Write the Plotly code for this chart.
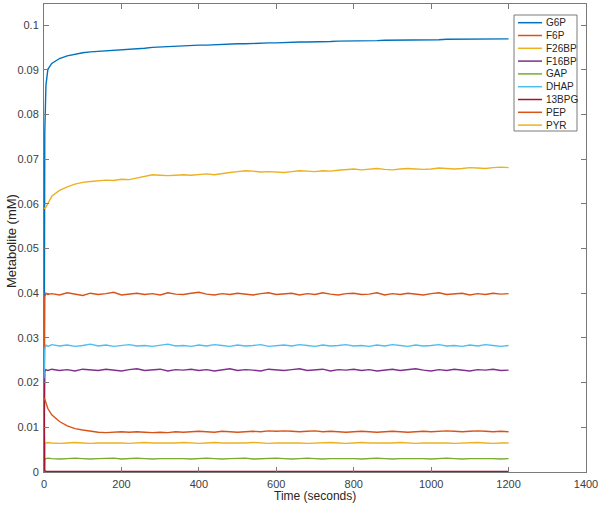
import plotly.graph_objects as go

# --- Data (time in seconds, concentrations in mM) ---
time_s = [0, 2, 5, 10,
          20, 40, 60, 80, 100, 120, 140, 160, 180, 200,
          220, 240, 260, 280, 300, 320, 340, 360, 380, 400,
          420, 440, 460, 480, 500, 520, 540, 560, 580, 600,
          620, 640, 660, 680, 700, 720, 740, 760, 780, 800,
          820, 840, 860, 880, 900, 920, 940, 960, 980, 1000,
          1020, 1040, 1060, 1080, 1100, 1120, 1140, 1160, 1180, 1200]

g6p = [0.0, 0.0760, 0.0865, 0.0901,
       0.0914, 0.0925, 0.0931, 0.0935, 0.0938, 0.0940, 0.0941, 0.0942, 0.0944, 0.0945,
       0.0946, 0.0947, 0.0948, 0.0950, 0.0951, 0.0951, 0.0952, 0.0953, 0.0954, 0.0955,
       0.0955, 0.0956, 0.0957, 0.0957, 0.0958, 0.0958, 0.0959, 0.0959, 0.0960, 0.0960,
       0.0961, 0.0961, 0.0962, 0.0962, 0.0962, 0.0963, 0.0963, 0.0964, 0.0964, 0.0964,
       0.0965, 0.0965, 0.0965, 0.0966, 0.0966, 0.0966, 0.0966, 0.0967, 0.0967, 0.0967,
       0.0967, 0.0968, 0.0968, 0.0968, 0.0968, 0.0968, 0.0969, 0.0969, 0.0969, 0.0969]

f6p = [0.0, 0.0392, 0.0400, 0.0397,
       0.0399, 0.0396, 0.0401, 0.0398, 0.0395, 0.0400, 0.0397, 0.0399, 0.0402, 0.0396,
       0.0398, 0.0400, 0.0397, 0.0399, 0.0396, 0.0401, 0.0398, 0.0397, 0.0400, 0.0402,
       0.0398, 0.0396, 0.0399, 0.0397, 0.0400, 0.0398, 0.0396, 0.0399, 0.0401, 0.0397,
       0.0398, 0.0400, 0.0396, 0.0399, 0.0397, 0.0401, 0.0398, 0.0396, 0.0399, 0.0400,
       0.0397, 0.0398, 0.0401, 0.0396, 0.0399, 0.0397, 0.0400, 0.0398, 0.0396, 0.0399,
       0.0401, 0.0397, 0.0398, 0.0400, 0.0396, 0.0399, 0.0397, 0.0400, 0.0398, 0.0399]

f26bp = [0.0, 0.0064, 0.0065, 0.0066,
         0.0065, 0.0064, 0.0065, 0.0066, 0.0065, 0.0064, 0.0065, 0.0065, 0.0066, 0.0065,
         0.0064, 0.0065, 0.0066, 0.0065, 0.0065, 0.0064, 0.0065, 0.0066, 0.0065, 0.0064,
         0.0065, 0.0066, 0.0065, 0.0065, 0.0064, 0.0065, 0.0066, 0.0065, 0.0064, 0.0065,
         0.0065, 0.0066, 0.0065, 0.0064, 0.0065, 0.0065, 0.0066, 0.0065, 0.0064, 0.0065,
         0.0066, 0.0065, 0.0065, 0.0064, 0.0065, 0.0066, 0.0065, 0.0064, 0.0065, 0.0065,
         0.0066, 0.0065, 0.0064, 0.0065, 0.0065, 0.0066, 0.0065, 0.0064, 0.0065, 0.0065]

f16bp = [0.0, 0.0225, 0.0229, 0.0227,
         0.0230, 0.0227, 0.0229, 0.0226, 0.0230, 0.0228, 0.0227, 0.0230, 0.0228, 0.0226,
         0.0229, 0.0231, 0.0227, 0.0228, 0.0230, 0.0226, 0.0229, 0.0228, 0.0230, 0.0227,
         0.0229, 0.0226, 0.0228, 0.0231, 0.0227, 0.0229, 0.0228, 0.0226, 0.0230, 0.0228,
         0.0227, 0.0229, 0.0231, 0.0227, 0.0228, 0.0230, 0.0226, 0.0229, 0.0228, 0.0230,
         0.0227, 0.0229, 0.0226, 0.0228, 0.0230, 0.0227, 0.0229, 0.0231, 0.0228, 0.0226,
         0.0229, 0.0227, 0.0230, 0.0228, 0.0226, 0.0229, 0.0228, 0.0230, 0.0227, 0.0228]

gap = [0.0, 0.0029, 0.0030, 0.0031,
       0.0030, 0.0029, 0.0030, 0.0031, 0.0030, 0.0029, 0.0030, 0.0030, 0.0031, 0.0029,
       0.0030, 0.0031, 0.0030, 0.0029, 0.0030, 0.0030, 0.0031, 0.0030, 0.0029, 0.0030,
       0.0031, 0.0030, 0.0029, 0.0030, 0.0030, 0.0031, 0.0029, 0.0030, 0.0030, 0.0031,
       0.0030, 0.0029, 0.0030, 0.0031, 0.0030, 0.0029, 0.0030, 0.0030, 0.0031, 0.0030,
       0.0029, 0.0030, 0.0031, 0.0030, 0.0029, 0.0030, 0.0030, 0.0031, 0.0030, 0.0029,
       0.0030, 0.0031, 0.0030, 0.0029, 0.0030, 0.0030, 0.0031, 0.0030, 0.0029, 0.0030]

dhap = [0.0210, 0.0276, 0.0284, 0.0281,
        0.0285, 0.0282, 0.0284, 0.0281, 0.0283, 0.0286, 0.0282, 0.0284, 0.0281, 0.0283,
        0.0285, 0.0282, 0.0283, 0.0281, 0.0284, 0.0286, 0.0282, 0.0283, 0.0281, 0.0284,
        0.0282, 0.0285, 0.0283, 0.0281, 0.0284, 0.0282, 0.0283, 0.0285, 0.0281, 0.0283,
        0.0284, 0.0282, 0.0285, 0.0283, 0.0281, 0.0284, 0.0282, 0.0283, 0.0285, 0.0282,
        0.0283, 0.0281, 0.0284, 0.0282, 0.0285, 0.0283, 0.0281, 0.0284, 0.0282, 0.0283,
        0.0285, 0.0282, 0.0283, 0.0281, 0.0284, 0.0282, 0.0285, 0.0283, 0.0281, 0.0283]

bpg13 = [0.0200, 0.0003, 0.0001, 0.0001,
         0.0001, 0.0001, 0.0001, 0.0001, 0.0001, 0.0001, 0.0001, 0.0001, 0.0001, 0.0001,
         0.0001, 0.0001, 0.0001, 0.0001, 0.0001, 0.0001, 0.0001, 0.0001, 0.0001, 0.0001,
         0.0001, 0.0001, 0.0001, 0.0001, 0.0001, 0.0001, 0.0001, 0.0001, 0.0001, 0.0001,
         0.0001, 0.0001, 0.0001, 0.0001, 0.0001, 0.0001, 0.0001, 0.0001, 0.0001, 0.0001,
         0.0001, 0.0001, 0.0001, 0.0001, 0.0001, 0.0001, 0.0001, 0.0001, 0.0001, 0.0001,
         0.0001, 0.0001, 0.0001, 0.0001, 0.0001, 0.0001, 0.0001, 0.0001, 0.0001, 0.0001]

pep = [0.0165, 0.0163, 0.0155, 0.0142,
       0.0128, 0.0113, 0.0103, 0.0097, 0.0094, 0.0091, 0.0089, 0.0088, 0.0089, 0.0090,
       0.0089, 0.0090, 0.0089, 0.0088, 0.0089, 0.0088, 0.0090, 0.0089, 0.0090, 0.0091,
       0.0090, 0.0089, 0.0091, 0.0090, 0.0089, 0.0090, 0.0091, 0.0090, 0.0092, 0.0091,
       0.0092, 0.0091, 0.0090, 0.0091, 0.0092, 0.0090, 0.0091, 0.0090, 0.0089, 0.0090,
       0.0091, 0.0090, 0.0089, 0.0090, 0.0091, 0.0090, 0.0089, 0.0090, 0.0091, 0.0090,
       0.0091, 0.0092, 0.0091, 0.0090, 0.0091, 0.0092, 0.0091, 0.0090, 0.0091, 0.0090]

pyr = [0.0590, 0.0590, 0.0592, 0.0600,
       0.0617, 0.0630, 0.0638, 0.0644, 0.0648, 0.0650, 0.0652, 0.0653, 0.0652, 0.0655,
       0.0654, 0.0658, 0.0662, 0.0665, 0.0664, 0.0663, 0.0664, 0.0665, 0.0664, 0.0666,
       0.0667, 0.0665, 0.0668, 0.0670, 0.0672, 0.0674, 0.0673, 0.0671, 0.0672, 0.0671,
       0.0670, 0.0672, 0.0674, 0.0673, 0.0672, 0.0674, 0.0673, 0.0675, 0.0677, 0.0678,
       0.0676, 0.0677, 0.0679, 0.0677, 0.0676, 0.0678, 0.0679, 0.0678, 0.0677, 0.0678,
       0.0680, 0.0679, 0.0678, 0.0679, 0.0681, 0.0680, 0.0679, 0.0681, 0.0682, 0.0681]

names = ["G6P", "F6P", "F26BP", "F16BP", "GAP", "DHAP", "13BPG", "PEP", "PYR"]
series = [g6p, f6p, f26bp, f16bp, gap, dhap, bpg13, pep, pyr]
colors = ["#0072BD", "#D95319", "#EDB120", "#7E2F8E", "#77AC30",
          "#4DBEEE", "#A2142F", "#D95319", "#EDB120"]

x_ticks = [0, 200, 400, 600, 800, 1000, 1200, 1400]
y_ticks = [0, 0.01, 0.02, 0.03, 0.04, 0.05, 0.06, 0.07, 0.08, 0.09, 0.1]

# --- Figure ---
W, H = 600, 509
ML, MR, MT, MB = 44, 14, 4, 37
PW, PH = W - ML - MR, H - MT - MB

fig = go.Figure()
for name, vals, col in zip(names, series, colors):
    fig.add_trace(go.Scatter(x=time_s, y=vals, mode="lines", name=name,
                             line=dict(color=col, width=1.4), showlegend=False))

# MATLAB-like legend box drawn by hand (plotly's legend rows are too tall)
def px_x(p):
    return (p - ML) / PW

def px_y(p):
    return (H - MB - p) / PH

shapes = [dict(type="rect", xref="paper", yref="paper",
               x0=px_x(514), x1=px_x(577), y0=px_y(131), y1=px_y(15),
               line=dict(color="#7a7a7a", width=1), fillcolor="white")]
annotations = []
for i, (name, col) in enumerate(zip(names, colors)):
    yy = px_y(22.7 + i * 12.8)
    shapes.append(dict(type="line", xref="paper", yref="paper",
                       x0=px_x(518), x1=px_x(542), y0=yy, y1=yy,
                       line=dict(color=col, width=1.5)))
    annotations.append(dict(xref="paper", yref="paper", x=px_x(544), y=yy,
                            text=name, showarrow=False, xanchor="left",
                            yanchor="middle", font=dict(size=10, color="#262626")))

# axis titles placed as annotations so the plot area stays where the reference has it
annotations.append(dict(xref="paper", yref="paper", x=0.5, y=px_y(496),
                        text="Time (seconds)", showarrow=False,
                        xanchor="center", yanchor="middle",
                        font=dict(size=12, color="#262626")))
annotations.append(dict(xref="paper", yref="paper", x=px_x(11), y=px_y(241),
                        text="Metabolite (mM)", showarrow=False, textangle=-90,
                        xanchor="center", yanchor="middle",
                        font=dict(size=13, color="#262626")))

axis_style = dict(showline=True, linecolor="#7a7a7a", linewidth=1, mirror="ticks",
                  ticks="inside", ticklen=5, tickcolor="#7a7a7a", showgrid=False,
                  zeroline=False, automargin=False,
                  tickfont=dict(size=11, color="#404040"))

fig.update_layout(
    width=W, height=H,
    margin=dict(l=ML, r=MR, t=MT, b=MB),
    paper_bgcolor="white", plot_bgcolor="white",
    font=dict(family="Liberation Sans, Arial, sans-serif", color="#262626"),
    xaxis=dict(range=[0, 1400], tickvals=x_ticks, ticklabelstandoff=2, **axis_style),
    yaxis=dict(range=[0, 0.1047], tickvals=y_ticks, ticklabelstandoff=2, **axis_style),
    shapes=shapes, annotations=annotations,
)

# the page's default 8px body margin would shift the chart; drop it
fig.write_html("out.html", config={"displayModeBar": False},
               post_script="document.body.style.margin='0';")
